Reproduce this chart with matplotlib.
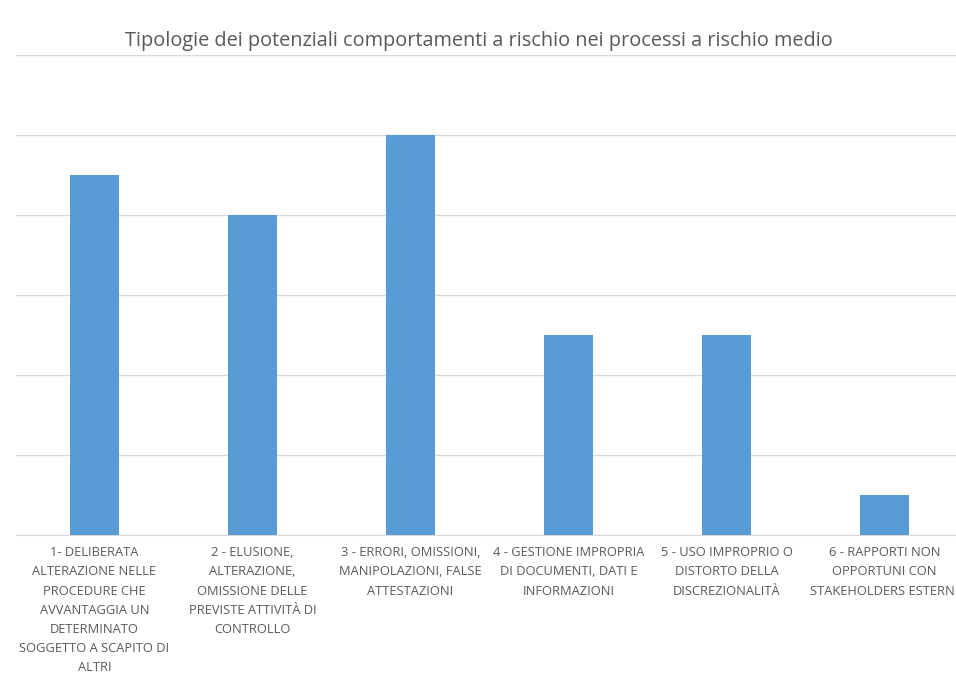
import matplotlib.pyplot as plt

plt.switch_backend("agg")
plt.rcParams['font.family'] = ['Open Sans', 'DejaVu Sans']

# dati
categorie = [
    "1- DELIBERATA\nALTERAZIONE NELLE\nPROCEDURE CHE\nAVVANTAGGIA UN\nDETERMINATO\nSOGGETTO A SCAPITO DI\nALTRI",
    "2 - ELUSIONE,\nALTERAZIONE,\nOMISSIONE DELLE\nPREVISTE ATTIVITÀ DI\nCONTROLLO",
    "3 - ERRORI, OMISSIONI,\nMANIPOLAZIONI, FALSE\nATTESTAZIONI",
    "4 - GESTIONE IMPROPRIA\nDI DOCUMENTI, DATI E\nINFORMAZIONI",
    "5 - USO IMPROPRIO O\nDISTORTO DELLA\nDISCREZIONALITÀ",
    "6 - RAPPORTI NON\nOPPORTUNI CON\nSTAKEHOLDERS ESTERNI",
]
valori = [9, 8, 10, 5, 5, 1]
y_ticks = [0, 2, 4, 6, 8, 10, 12]

W, H = 956, 673
fig = plt.figure(figsize=(W / 100, H / 100), dpi=100)
# l'area del grafico esce un po' a destra, come nell'originale
left, right = 15.5, 963.5
top, bottom = 55, 535
ax = fig.add_axes([left / W, 1 - bottom / H, (right - left) / W, (bottom - top) / H])

x = list(range(len(valori)))
ax.bar(x, valori, width=0.31, color='#5b9bd5', zorder=3)

ax.set_xlim(-0.5, len(valori) - 0.5)
ax.set_ylim(0, 12)
ax.set_yticks(y_ticks)
ax.yaxis.grid(True, color='#d9d9d9', linewidth=1)
ax.tick_params(axis='y', left=False, labelleft=False)
ax.tick_params(axis='x', length=0, pad=8)
ax.set_xticks(x)
ax.set_xticklabels(categorie, fontsize=9.3, color='#595959', linespacing=1.62,
                   va='top', ha='center')
for s in ['top', 'left', 'right']:
    ax.spines[s].set_visible(False)
ax.spines['bottom'].set_color('#d9d9d9')

fig.text(479 / W, 1 - 41 / H,
         "Tipologie dei potenziali comportamenti a rischio nei processi a rischio medio",
         ha='center', va='center', fontsize=14.3, color='#595959')

fig.savefig("out.png", dpi=100)
